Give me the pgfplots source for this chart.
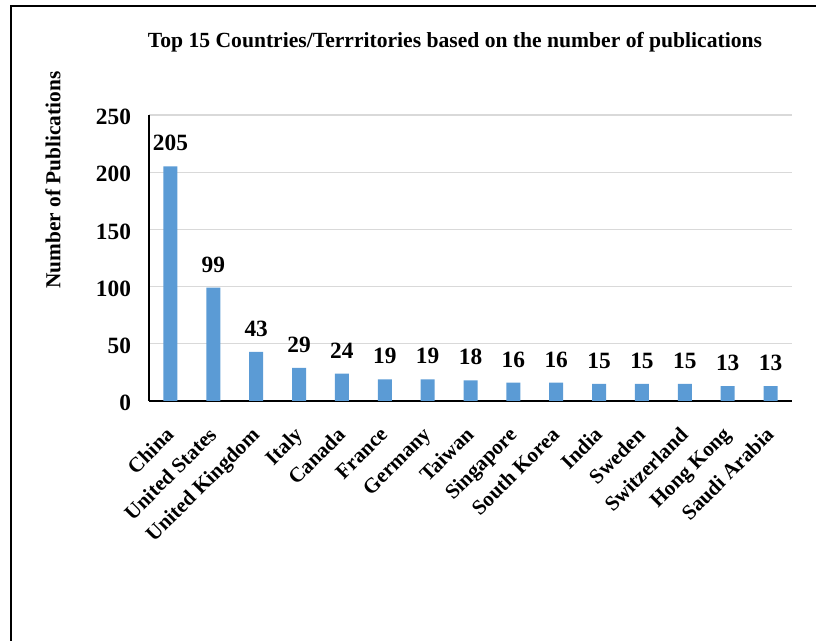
\documentclass[border=0pt]{standalone}
\usepackage{fontspec}
\setmainfont{Liberation Serif}
\usepackage{pgfplots}
\pgfplotsset{compat=1.18}
\definecolor{barblue}{HTML}{5B9BD5}
\begin{document}
\begin{tikzpicture}[x=0.75pt,y=0.75pt]
\useasboundingbox (0,0) rectangle (816,641);
\draw[line width=1.5pt] (11,0) -- (11,635) -- (816,635);
\node[font=\bfseries\fontsize{16.2}{16.2}\selectfont] at (455,599) {Top 15 Countries/Terrritories based on the number of publications};
\node[rotate=90,font=\bfseries\fontsize{16}{16}\selectfont] at (53,461) {Number of Publications};
\begin{axis}[
  at={(111.75pt,180pt)}, anchor=south west,
  scale only axis, width=482.25pt, height=214.5pt,
  ymin=0, ymax=250, ytick={0,50,...,250},
  xmin=-0.5, xmax=14.5,
  xtick=data,
  xticklabels={China,United States,United Kingdom,Italy,Canada,France,Germany,Taiwan,Singapore,South Korea,India,Sweden,Switzerland,Hong Kong,Saudi Arabia},
  ybar, bar width=10.5pt,
  axis x line*=bottom, axis y line*=left,
  axis line style={line width=1pt},
  ymajorgrids, grid style={draw=black!15, line width=1pt},
  major tick length=0pt,
  /pgf/number format/assume math mode=true,
  tick label style={font=\bfseries\fontsize{17.5}{17.5}\selectfont},
  yticklabel style={xshift=-10pt, yshift=-1.5pt},
  xticklabel style={font=\bfseries\fontsize{15.8}{15.8}\selectfont, xshift=-4.5pt, yshift=-17pt, rotate=45, anchor=north east, inner sep=1pt},
  nodes near coords,
  nodes near coords style={font=\bfseries\fontsize{17.5}{17.5}\selectfont, yshift=8pt},
  clip=false,
]
\addplot[fill=barblue, draw=none] coordinates {
(0,205) (1,99) (2,43) (3,29) (4,24) (5,19) (6,19) (7,18) (8,16) (9,16) (10,15) (11,15) (12,15) (13,13) (14,13)};
\end{axis}
\end{tikzpicture}
\end{document}
